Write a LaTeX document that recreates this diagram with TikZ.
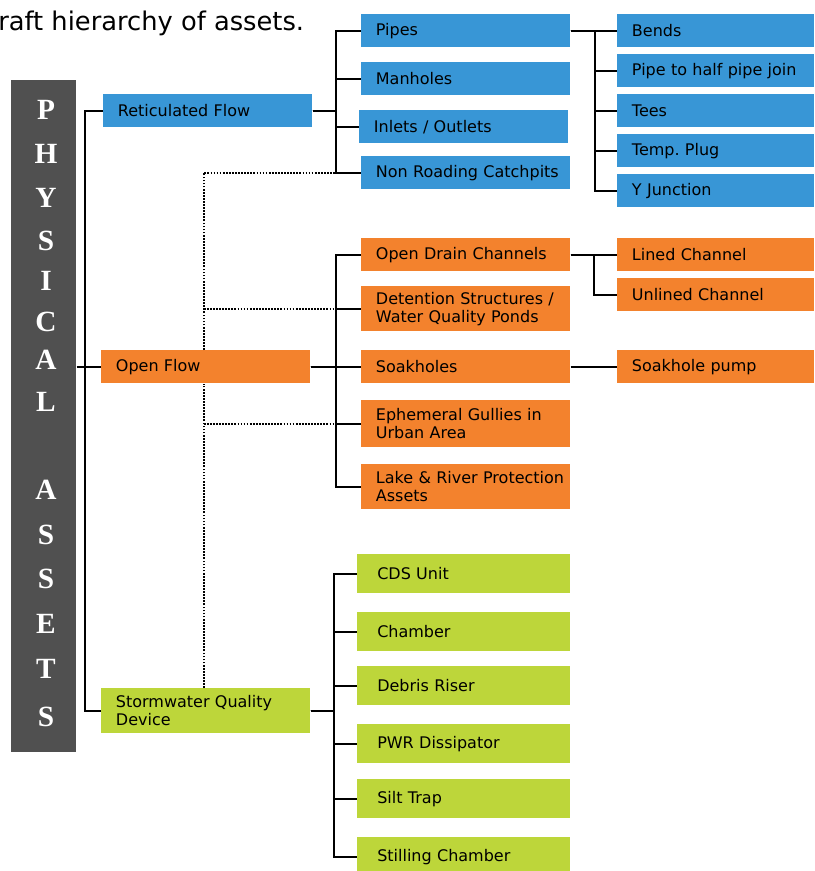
\documentclass[tikz,border=0pt]{standalone}
\usepackage{fontspec}
\newfontfamily\boxfont{DejaVu Sans}
\newfontfamily\letterfont{Liberation Serif}
\usepackage{tikz}
\usetikzlibrary{calc}
\usepackage{xcolor}
\definecolor{color3896d6}{HTML}{3896D6}
\definecolor{colorf3822d}{HTML}{F3822D}
\definecolor{colorbdd63a}{HTML}{BDD63A}
\definecolor{color505050}{HTML}{505050}

\begin{document}
\begin{tikzpicture}
    [x=0.75pt, y=-0.75pt,  % one unit = one pixel, y running down
     box_base/.style={anchor=north west, inner xsep=11pt, inner ysep=0pt, align=left,
                      text width=134.75pt, minimum height=24.75pt,
                      font=\boxfont\fontsize{12}{13.5}\selectfont},
     box_blue/.style={box_base, fill=color3896d6},
     box_orange/.style={box_base, fill=colorf3822d},
     box_green/.style={box_base, fill=colorbdd63a, inner xsep=15pt, text width=129.75pt,
                       minimum height=29.25pt},
     box_leaf/.style={text width=125.75pt},
     tree_line/.style={draw=black, line width=1.5pt},
     dot_line/.style={draw=black, line width=1.3pt, densely dotted},
    ]

\useasboundingbox (0,0) rectangle (814,871);

\node[anchor=base west, inner sep=0pt, font=\boxfont\fontsize{19.3}{23}\selectfont] (node_title) at (-2,30) {raft hierarchy of assets.};

% left column
\node[anchor=north west, fill=color505050, minimum width=48.75pt, minimum height=504pt, inner sep=0pt] (node_physical) at (11,80) {};
\foreach \ch/\y in {P/110, H/154, Y/198, S/241, I/281, C/322, A/360, L/402,
                    A/490, S/535, S/579, E/624, T/669, S/717}
  \node[text=white, inner sep=0pt, font=\letterfont\bfseries\fontsize{22}{22}\selectfont] (node_letter_\y) at (46,\y) {\ch};

% first level
\node[box_blue] (node_retic) at (103,94) {Reticulated Flow};
\node[box_orange] (node_open) at (101,350) {Open Flow};
\node[box_green, inner xsep=11pt, text width=134.75pt, minimum height=33.75pt] (node_storm) at (101,688) {Stormwater Quality\\Device};

% reticulated flow
\node[box_blue] (node_pipes) at (361,14) {Pipes};
\node[box_blue] (node_manholes) at (361,62) {Manholes};
\node[box_blue] (node_inlets) at (359,110) {Inlets / Outlets};
\node[box_blue] (node_catchpits) at (361,156) {\mbox{Non Roading Catchpits}};

\node[box_blue, box_leaf] (node_bends) at (617,14) {Bends};
\node[box_blue, box_leaf] (node_halfjoin) at (617,54) {Pipe to half pipe join};
\node[box_blue, box_leaf] (node_tees) at (617,94) {Tees};
\node[box_blue, box_leaf] (node_plug) at (617,134) {Temp.\ Plug};
\node[box_blue, box_leaf] (node_yjunc) at (617,174) {Y Junction};

% open flow
\node[box_orange] (node_drain) at (361,238) {Open Drain Channels};
\node[box_orange, minimum height=33.75pt] (node_detention) at (361,286) {\mbox{Detention Structures /}\\Water Quality Ponds};
\node[box_orange] (node_soakholes) at (361,350) {Soakholes};
\node[box_orange, minimum height=35.25pt] (node_ephemeral) at (361,400) {Ephemeral Gullies in\\Urban Area};
\node[box_orange, minimum height=33.75pt] (node_lake) at (361,464) {\mbox{Lake \& River Protection}\\Assets};

\node[box_orange, box_leaf] (node_lined) at (617,238) {Lined Channel};
\node[box_orange, box_leaf] (node_unlined) at (617,278) {Unlined Channel};
\node[box_orange, box_leaf] (node_pump) at (617,350) {Soakhole pump};

% stormwater quality device
\node[box_green] (node_cds) at (357,554) {CDS Unit};
\node[box_green] (node_chamber) at (357,612) {Chamber};
\node[box_green] (node_debris) at (357,666) {Debris Riser};
\node[box_green] (node_pwr) at (357,724) {PWR Dissipator};
\node[box_green] (node_silt) at (357,779) {Silt Trap};
\node[box_green] (node_stilling) at (357,837) {Stilling Chamber};

% connectors
\draw[tree_line] (node_retic.west) -- ++(-18,0) |- (node_storm.west);
\draw[tree_line] (node_physical.east |- node_open.west) -- (node_open.west);

\foreach \c in {pipes,manholes,inlets,catchpits}
  \draw[tree_line] (node_retic.east) -- ++(23,0) |- (node_\c.west);
\foreach \c in {bends,halfjoin,tees,plug,yjunc}
  \draw[tree_line] (node_pipes.east) -- ++(24,0) |- (node_\c.west);

\foreach \c in {drain,detention,soakholes,ephemeral,lake}
  \draw[tree_line] (node_open.east) -- ++(25,0) |- (node_\c.west);
\foreach \c in {lined,unlined}
  \draw[tree_line] (node_drain.east) -- ++(23,0) |- (node_\c.west);
\draw[tree_line] (node_soakholes.east) -- (node_pump.west);

\foreach \c in {cds,chamber,debris,pwr,silt,stilling}
  \draw[tree_line] (node_storm.east) -- ++(23,0) |- (node_\c.west);

% dotted links
\coordinate (retic_join) at ($(node_retic.east)+(23,0)$);
\coordinate (open_join) at ($(node_open.east)+(25,0)$);
\coordinate (dot_top) at ($(node_storm.north)+(-2,0)$);
\draw[dot_line] (dot_top) -- (dot_top |- node_open.south);
\draw[dot_line] (dot_top |- node_open.north) |- (retic_join |- node_catchpits.west);
\draw[dot_line] (dot_top |- node_detention.west) -- (open_join |- node_detention.west);
\draw[dot_line] (dot_top |- node_ephemeral.west) -- (open_join |- node_ephemeral.west);

\end{tikzpicture}
\end{document}
